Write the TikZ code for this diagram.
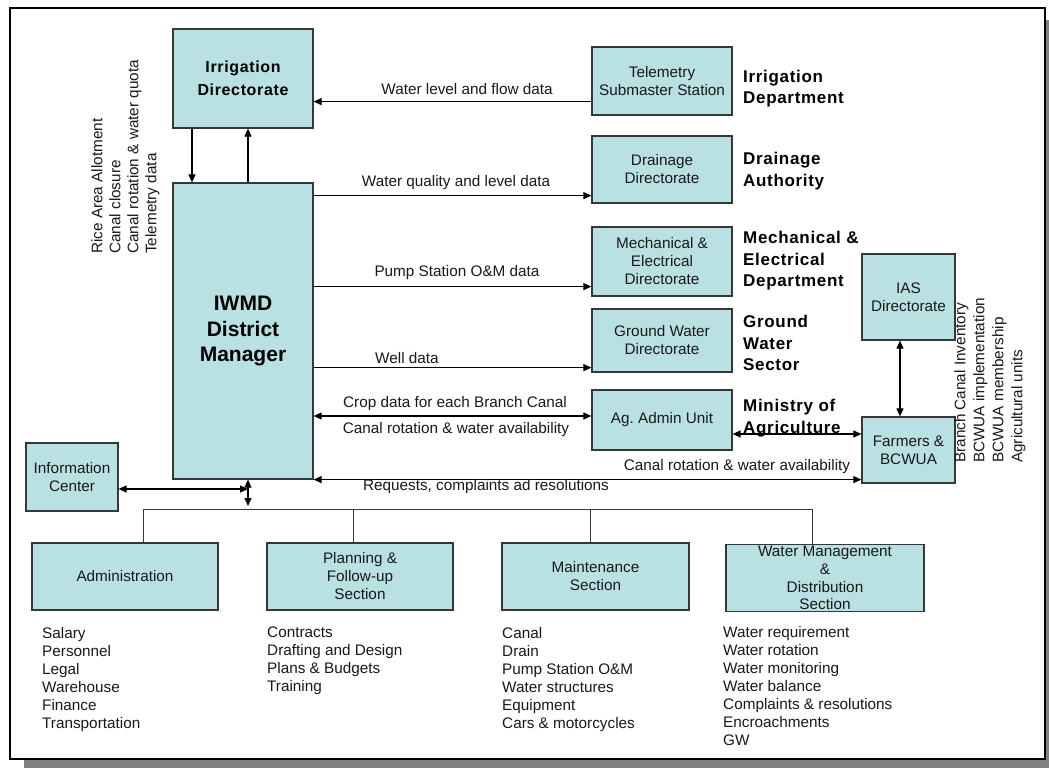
\documentclass[tikz,border=0pt]{standalone}
\usepackage{fontspec}
\setmainfont{Liberation Sans}
\usetikzlibrary{arrows.meta}
\definecolor{boxfill}{RGB}{185,224,227}
\definecolor{boxline}{RGB}{55,55,55}
\definecolor{shadowgray}{RGB}{128,128,128}
\definecolor{txt}{RGB}{25,25,25}
\newcommand{\regfont}{\fontsize{15.3}{18}\selectfont}
\newcommand{\deptfont}{\fontsize{17}{21.5}\selectfont\bfseries\addfontfeature{LetterSpace=4}}
\newcommand{\irrfont}{\fontsize{16}{23}\selectfont\bfseries\addfontfeature{LetterSpace=4}}
\newcommand{\iwmdfont}{\fontsize{21}{25.5}\selectfont\bfseries}
\frenchspacing
\begin{document}
\begin{tikzpicture}[x=1pt,y=-1pt,
  box/.style={draw=boxline, line width=1.2pt, fill=boxfill, inner sep=0pt, align=center, font=\regfont, text=txt},
  lbl/.style={inner sep=0pt, font=\regfont, text=txt},
  lst/.style={inner sep=0pt, font=\regfont, text=txt, align=left, anchor=north west},
  dept/.style={inner sep=0pt, font=\deptfont, text=black, align=left, anchor=west},
  rot/.style={inner sep=0pt, font=\regfont, text=txt, align=left, rotate=90, anchor=north west},
  tip/.style={line width=1.1pt, draw=black},
  onearrow/.style={tip, -{Triangle[length=8pt,width=7pt]}},
  twoarrow/.style={tip, {Triangle[length=8pt,width=7pt]}-{Triangle[length=8pt,width=7pt]}},
  busline/.style={line width=1pt, draw=boxline}
]
\useasboundingbox (0,0) rectangle (1049,768);
% shadow and frame
\fill[shadowgray] (24,20) rectangle (1049,768);
\draw[line width=1.8pt, fill=white] (10,8) rectangle (1045,759);

% boxes
\node[box, minimum width=140pt, minimum height=99pt, font=\irrfont, text=black] (irr) at (243,78.5)
  {Irrigation\\Directorate};
\node[box, minimum width=140pt, minimum height=296pt, font=\iwmdfont, text=black] (iwmd) at (243,331)
  {IWMD\\District\\Manager};
\node[box, minimum width=140pt, minimum height=68pt] (tele) at (662,81) {Telemetry\\Submaster Station};
\node[box, minimum width=140pt, minimum height=67pt] (drain) at (662,169.5) {Drainage\\Directorate};
\node[box, minimum width=140pt, minimum height=69pt] (mech) at (662,261.5) {Mechanical \&\\Electrical\\Directorate};
\node[box, minimum width=140pt, minimum height=63pt] (ground) at (662,340.5) {Ground Water\\Directorate};
\node[box, minimum width=140pt, minimum height=60pt] (ag) at (662,420) {Ag. Admin Unit};
\node[box, minimum width=93pt, minimum height=86pt] (ias) at (908.5,297) {IAS\\Directorate};
\node[box, minimum width=93pt, minimum height=66pt] (farm) at (908.5,450) {Farmers \&\\BCWUA};
\node[box, minimum width=92pt, minimum height=68pt] (info) at (72,477) {Information\\Center};
\node[box, minimum width=186pt, minimum height=67pt] (adm) at (125,576.5) {Administration};
\node[box, minimum width=186pt, minimum height=67pt] (plan) at (360,576.5) {Planning \&\\Follow-up\\Section};
\node[box, minimum width=187pt, minimum height=67pt] (maint) at (595.5,576.5) {Maintenance\\Section};
\node[box, minimum width=198pt, minimum height=67pt, font=\fontsize{15.3}{17.8}\selectfont] (wm) at (825,578) {Water Management\\\&\\Distribution\\Section};

% department labels
\node[dept] (dIrr) at (743,88.5) {Irrigation\\Department};
\node[dept] (dDrain) at (743,171) {Drainage\\Authority};
\node[dept] (dMech) at (743,261) {Mechanical \&\\Electrical\\Department};
\node[dept] (dGround) at (743,343) {Ground\\Water\\Sector};
\node[dept] (dMin) at (743,418) {Ministry of\\Agriculture};

% irrigation <-> iwmd
\draw[onearrow] ([xshift=-51pt]irr.south) -- ([xshift=-51pt]iwmd.north);
\draw[onearrow] ([xshift=5pt]iwmd.north) -- ([xshift=5pt]irr.south);

% horizontal connectors
\coordinate (cTele) at ([yshift=14pt]tele.south west);
\draw[onearrow] (cTele) -- (irr.east |- cTele);
\node[lbl] (lTele) at (467,89) {Water level and flow data};

\coordinate (cDrain) at ([yshift=8pt]drain.south west);
\draw[onearrow] (iwmd.east |- cDrain) -- (cDrain);
\node[lbl] (lDrain) at (456,183) {Water quality and level data};

\coordinate (cMech) at ([yshift=10pt]mech.south west);
\draw[onearrow] (iwmd.east |- cMech) -- (cMech);
\node[lbl] (lMech) at (457,273) {Pump Station O\&M data};

\coordinate (cGround) at ([yshift=5pt]ground.south west);
\draw[onearrow] (iwmd.east |- cGround) -- (cGround);
\node[lbl, anchor=west] (lGround) at (375,358) {Well data};

\coordinate (cAg) at ([yshift=4pt]ag.west);
\draw[twoarrow] (iwmd.east |- cAg) -- (cAg);
\node[lbl] (lAg1) at (455,404) {Crop data for each Branch Canal};
\node[lbl] (lAg2) at (456,430) {Canal rotation \& water availability};

\coordinate (cAgF) at ([yshift=-14pt]ag.east);
\draw[twoarrow] (cAgF) -- (farm.west |- cAgF);

\coordinate (cReq) at (iwmd.south east);
\draw[twoarrow] (cReq) -- (farm.west |- cReq);
\node[lbl] (lFarm) at (737,467) {Canal rotation \& water availability};
\node[lbl] (lReq) at (486,487) {Requests, complaints ad resolutions};

\coordinate (cIas) at ([xshift=-8.5pt]ias.south);
\draw[twoarrow] (cIas) -- (cIas |- farm.north);

% rotated lists
\node[rot] (rLeft) at (91,254) {Rice Area Allotment\\Canal closure\\Canal rotation \& water quota\\Telemetry data};
\node[rot, font=\fontsize{15.3}{19}\selectfont] (rRight) at (954,463) {Branch Canal Inventory\\BCWUA implementation\\BCWUA membership\\Agricultural units};

% bus to sections
\coordinate (vTop) at ([xshift=5pt]iwmd.south);
\coordinate (busL) at (143,509);
\coordinate (busP) at (353,509);
\coordinate (busM) at (590,509);
\coordinate (busR) at (812,509);
\draw[busline] (busL) -- (busR);
\draw[busline] (busL) -- (busL |- adm.north);
\draw[busline] (busP) -- (busP |- plan.north);
\draw[busline] (busM) -- (busM |- maint.north);
\draw[busline] (busR) -- (busR |- wm.north);
\coordinate (vBot) at ([yshift=3pt]vTop |- busL);
\draw[twoarrow] (vTop) -- (vBot);
\coordinate (cInfo) at ([yshift=-12pt]info.east);
\draw[twoarrow] (cInfo) -- (vTop |- cInfo);

% lists under sections
\node[lst] (lAdm) at (42,627) {Salary\\Personnel\\Legal\\Warehouse\\Finance\\Transportation};
\node[lst] (lPlan) at (267,627) {Contracts\\Drafting and Design\\Plans \& Budgets\\Training};
\node[lst] (lMaint) at (502,627) {Canal\\Drain\\Pump Station O\&M\\Water structures\\Equipment\\Cars \& motorcycles};
\node[lst] (lWm) at (723,626) {Water requirement\\Water rotation\\Water monitoring\\Water balance\\Complaints \& resolutions\\Encroachments\\GW};
\end{tikzpicture}
\end{document}
